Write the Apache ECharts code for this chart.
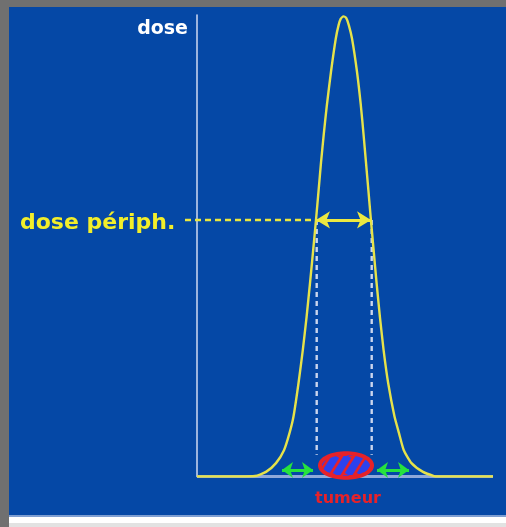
<!DOCTYPE html>
<html>
<head>
<meta charset="utf-8">
<script src="https://cdn.jsdelivr.net/npm/echarts@6/dist/echarts.min.js"></script>
<style>
  html, body { margin:0; padding:0; }
  body { width:506px; height:527px; position:relative; overflow:hidden; background:#ffffff; }
  .blk { position:absolute; }
</style>
</head>
<body>
<div class="blk" style="left:0;top:0;width:9px;height:527px;background:#707070"></div>
<div class="blk" style="left:0;top:0;width:506px;height:7px;background:#707070"></div>
<div class="blk" style="left:9px;top:7px;width:497px;height:508px;background:#0548a6"></div>
<div class="blk" style="left:9px;top:515px;width:497px;height:2px;background:#7f9fd2"></div>
<div class="blk" style="left:9px;top:523px;width:497px;height:4px;background:#e2e2e2"></div>
<div id="chart" style="position:absolute;left:0;top:0;width:506px;height:527px"></div>
<script>
// ---- data ----
const curveX    = [0, 43, 58, 69, 79, 87, 92.5, 96.5, 101.5, 105.8, 109.6, 113.0, 116.2, 119, 121.6, 124, 126.7, 129.9, 134, 138.8, 141.6, 143.8, 146.5,
                   149.3, 151.8, 155, 160, 163.8, 166.6, 169, 171.4, 173.9, 176.6, 179.6, 182.9, 186.6, 191.2, 197.5, 202, 206.8, 214.5, 226, 237, 241, 296];
const curveDose = [0, 0, 0.1, 1.0, 2.9, 5.7, 9.4, 13.0, 20.2, 27.4, 34.6, 41.9, 49.1, 55.6, 62, 68, 74, 80.5, 87.7, 94.9, 97.8, 99.2, 99.7,
                   99.3, 97.8, 94.9, 87.7, 80.5, 74, 68, 62, 55.6, 49.1, 41.9, 34.6, 27.4, 20.2, 13.0, 9.4, 5.7, 2.9, 1.0, 0.1, 0, 0];
const baselineX   = [0, 296];
const periphDose  = 55.6;        // dose périphérique level
const periphLineStart = -12;     // dashed line begins left of the axis
const fieldEdges  = [119, 174];  // width of the isodose at periph level
const guideX      = [119.7, 174.7];
const guideBottomDose = 4.7;
const marginLeft  = [85, 116];
const marginRight = [180, 212];
const marginDose  = 1.4;
const tumour      = [149, 2.38, 26, 2.66]; // centre x, centre dose, half-width, half-height
const yAxisName   = 'dose';
const periphLabel = 'dose périph.';
const tumourLabel = 'tumeur';

// ---- colours ----
const yellow = '#ece840';
const curveYellow = '#e6e24a';
const tumourRed = '#e62229';
const stripeBlue = '#2c42ee';
const green = '#26e23e';

function stripePattern() {
  const W = 12, H = 19;
  const c = document.createElement('canvas');
  c.width = W; c.height = H;
  const g = c.getContext('2d');
  g.fillStyle = tumourRed; g.fillRect(0, 0, W, H);
  g.strokeStyle = stripeBlue; g.lineWidth = 7.5;
  for (let k = -1; k <= 1; k++) {
    g.beginPath(); g.moveTo(k * W, H); g.lineTo(k * W + W, 0); g.stroke();
  }
  return c;
}
const pattern = stripePattern();

const chart = echarts.init(document.getElementById('chart'), null, { renderer: 'canvas' });
const pairs = (xs, ys) => xs.map((x, i) => [x, ys[i]]);

chart.setOption({
  animation: false,
  grid: { left: 182, right: 13, top: 15, bottom: 50.5 },
  xAxis: {
    type: 'value', min: -15, max: 296,
    axisLine: { show: false }, axisTick: { show: false }, axisLabel: { show: false }, splitLine: { show: false }
  },
  yAxis: {
    type: 'value', min: 0, max: 100,
    axisLine: { show: true, onZero: true, lineStyle: { color: '#c4d1ee', width: 1.6 } },
    axisTick: { show: false }, axisLabel: { show: false }, splitLine: { show: false }
  },
  series: [
    { type: 'line', data: baselineX.map(x => [x, 0]), symbol: 'none', z: 1,
      lineStyle: { color: '#8fa9da', width: 3 } },
    { type: 'line', data: pairs(curveX, curveDose), symbol: 'none', smooth: 0.2, z: 3,
      lineStyle: { color: curveYellow, width: 2.4 } },
    { type: 'line', data: [[periphLineStart, periphDose], [fieldEdges[0], periphDose]], symbol: 'none', z: 2,
      lineStyle: { color: yellow, width: 2.5, type: [6, 4] } },
    { type: 'line', data: [[guideX[0], periphDose], [guideX[0], guideBottomDose]], symbol: 'none', z: 2,
      lineStyle: { color: '#ccd6ee', width: 2.4, type: [5, 4] } },
    { type: 'line', data: [[guideX[1], periphDose], [guideX[1], guideBottomDose]], symbol: 'none', z: 2,
      lineStyle: { color: '#ccd6ee', width: 2.4, type: [5, 4] } },
    { type: 'line', data: [], z: 4,
      markLine: {
        silent: true, symbol: ['arrow', 'arrow'], symbolSize: [13, 14],
        label: { show: false },
        lineStyle: { color: yellow, width: 3, type: 'solid' },
        data: [[{ coord: [fieldEdges[0], periphDose] }, { coord: [fieldEdges[1], periphDose] }]]
      } },
    { type: 'line', data: [], z: 4,
      markLine: {
        silent: true, symbol: ['arrow', 'arrow'], symbolSize: [12, 11],
        label: { show: false },
        lineStyle: { color: green, width: 3, type: 'solid' },
        data: [
          [{ coord: [marginLeft[0], marginDose] }, { coord: [marginLeft[1], marginDose] }],
          [{ coord: [marginRight[0], marginDose] }, { coord: [marginRight[1], marginDose] }]
        ]
      } },
    { type: 'custom', z: 5, clip: false, data: [tumour],
      renderItem: function (params, api) {
        const c = api.coord([api.value(0), api.value(1)]);
        const s = api.size([api.value(2), api.value(3)]);
        const pts = [];
        for (let i = 0; i < 72; i++) {
          const a = i / 72 * Math.PI * 2;
          pts.push([c[0] + s[0] * Math.cos(a), c[1] + s[1] * Math.sin(a)]);
        }
        return { type: 'polygon', shape: { points: pts },
          style: { fill: { image: pattern, repeat: 'repeat' }, stroke: tumourRed, lineWidth: 4 } };
      } }
  ],
  graphic: [
    { type: 'text', x: 188, y: 28.6, z: 10,
      style: { text: yAxisName, fill: '#ffffff', font: 'bold 19px "DejaVu Sans"', align: 'right', verticalAlign: 'middle' } },
    { type: 'text', x: 20, y: 223.4, z: 10,
      style: { text: periphLabel, fill: '#f2ee2a', font: 'bold 22px "DejaVu Sans"', align: 'left', verticalAlign: 'middle' } },
    { type: 'text', x: 348, y: 498.5, z: 10,
      style: { text: tumourLabel, fill: tumourRed, font: 'bold 16px "DejaVu Sans"', align: 'center', verticalAlign: 'middle' } }
  ]
});
</script>
</body>
</html>
